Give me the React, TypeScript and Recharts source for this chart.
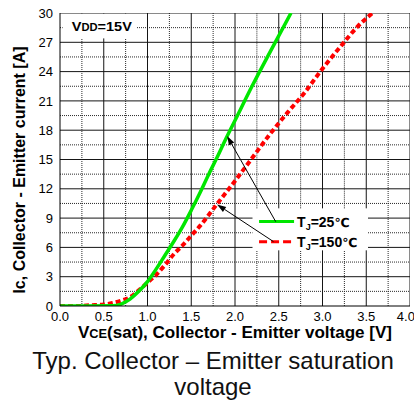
import React from 'react';
import { LineChart, Line, XAxis, YAxis, ReferenceLine } from 'recharts';

const FONT = '"Liberation Sans", Arial, Helvetica, sans-serif';

// Tj = 25°C curve
const greenX = [0, 0.3, 0.6, 0.7, 0.8, 0.9, 1.0, 1.1, 1.2, 1.3, 1.4, 1.5, 1.6, 1.7, 1.8, 1.9, 2.0, 2.2, 2.4, 2.64];
const greenY = [0, 0, 0.02, 0.2, 0.7, 1.5, 2.5, 3.8, 5.2, 6.6, 8.1, 9.8, 11.6, 13.5, 15.3, 17.2, 19.0, 22.6, 26.0, 30];

// Tj = 150°C curve
const redX = [0, 0.2, 0.3, 0.4, 0.5, 0.6, 0.7, 0.8, 0.9, 1.0, 1.1, 1.2, 1.3, 1.4, 1.5, 1.6, 1.8, 2.0, 2.2, 2.4, 2.6, 2.8, 3.0, 3.2, 3.4, 3.57];
const redY = [0, 0, 0.05, 0.1, 0.15, 0.3, 0.55, 0.9, 1.6, 2.4, 3.2, 4.2, 5.3, 6.2, 7.2, 8.2, 10.5, 12.8, 15.2, 17.6, 19.8, 21.9, 24.3, 26.5, 28.6, 30];

const xTicks = [0, 0.5, 1.0, 1.5, 2.0, 2.5, 3.0, 3.5, 4.0];
const yTicks = [0, 3, 6, 9, 12, 15, 18, 21, 24, 27, 30];
const xMajorGrid = [0.5, 1.0, 1.5, 2.0, 2.5, 3.0, 3.5, 4.0];
const xMinorGrid = [0.25, 0.75, 1.25, 1.75, 2.25, 2.75, 3.25, 3.75];
const yMajorGrid = [3, 6, 9, 12, 15, 18, 21, 24, 27, 30];
const yMinorGrid = [1.5, 4.5, 7.5, 10.5, 13.5, 16.5, 19.5, 22.5, 25.5, 28.5];
const X_MIN = 0;
const X_MAX = 4;
const Y_MIN = 0;
const Y_MAX = 30;

// blank (grid-free) boxes in data units
const legendBox = { x1: 2.2, x2: 3.52, y1: 5.7, y2: 10.0 };
const vddBox = { x1: 0.03, x2: 0.88, y1: 27.4, y2: 29.95 };
const blankBoxes = [vddBox, legendBox];
const vddAnchor = [{ x: 0.03, y: 27.4 }, { x: 0.88, y: 29.95 }];
const greenSample = [{ x: 2.275, y: 8.64 }, { x: 2.675, y: 8.64 }];
const redSample = [{ x: 2.275, y: 6.59 }, { x: 2.675, y: 6.59 }];
const greenArrow = [{ x: 2.465, y: 8.64 }, { x: 1.91, y: 17.4 }];
const redArrow = [{ x: 2.44, y: 6.59 }, { x: 1.795, y: 10.4 }];
const plotSpan = [{ x: X_MIN, y: Y_MIN }, { x: X_MAX, y: Y_MAX }];

const greenData = greenX.map((x, i) => ({ x, y: greenY[i] }));
const redData = redX.map((x, i) => ({ x, y: redY[i] }));

type Interval = [number, number];
const subtract = (list: Interval[], lo: number, hi: number): Interval[] =>
  list.flatMap(([a, c]) => {
    if (hi <= a || lo >= c) return [[a, c] as Interval];
    const out: Interval[] = [];
    if (lo > a) out.push([a, lo]);
    if (hi < c) out.push([hi, c]);
    return out;
  });

const verticalPieces = (v: number): Interval[] =>
  blankBoxes.reduce<Interval[]>((acc, b) => (v > b.x1 && v < b.x2 ? subtract(acc, b.y1, b.y2) : acc), [[Y_MIN, Y_MAX]]);
const horizontalPieces = (v: number): Interval[] =>
  blankBoxes.reduce<Interval[]>((acc, b) => (v > b.y1 && v < b.y2 ? subtract(acc, b.x1, b.x2) : acc), [[X_MIN, X_MAX]]);

type GridPiece = { id: string; data: { x: number; y: number }[]; color: string; dash?: string };
const buildGrid = (): GridPiece[] => {
  const out: GridPiece[] = [];
  const addV = (vals: number[], color: string, dash?: string) =>
    vals.forEach((v) =>
      verticalPieces(v).forEach(([a, c], i) =>
        out.push({ id: `v${v}-${i}-${dash ? 'm' : 'M'}`, data: [{ x: v, y: a }, { x: v, y: c }], color, dash })
      )
    );
  const addH = (vals: number[], color: string, dash?: string) =>
    vals.forEach((v) =>
      horizontalPieces(v).forEach(([a, c], i) =>
        out.push({ id: `h${v}-${i}-${dash ? 'm' : 'M'}`, data: [{ x: a, y: v }, { x: c, y: v }], color, dash })
      )
    );
  addV(xMinorGrid, '#2a2a2a', '1 1');
  addH(yMinorGrid, '#2a2a2a', '1 1');
  addV(xMajorGrid, '#151515');
  addH(yMajorGrid, '#151515');
  return out;
};
const gridPieces = buildGrid();

const VddShape = (p: any) => {
  const x = Math.min(p.x1, p.x2);
  const y = Math.min(p.y1, p.y2);
  const w = Math.abs(p.x2 - p.x1);
  const h = Math.abs(p.y2 - p.y1);
  return (
    <text
      x={x + w / 2 + 2}
      y={y + h / 2 + 5}
      textAnchor="middle"
      fontFamily={FONT}
      fontWeight="bold"
      fontSize={13}
      fill="#000"
      textLength={60}
      lengthAdjust="spacingAndGlyphs"
    >
      V<tspan fontSize={10}>DD</tspan>=15V
    </text>
  );
};

const TitleShape = (p: any) => {
  const cx = (p.x1 + p.x2) / 2;
  const cy = (p.y1 + p.y2) / 2;
  return (
    <g>
      <text
        x={p.x1 - 35.5}
        y={cy + 10.5}
        transform={`rotate(-90 ${p.x1 - 35.5} ${cy + 10.5})`}
        textAnchor="middle"
        fontFamily={FONT}
        fontWeight="bold"
        fontSize={16}
        fill="#000"
      >
        Ic, Collector - Emitter current [A]
      </text>
      <text x={cx} y={p.y1 + 31.5} textAnchor="middle" fontFamily={FONT} fontWeight="bold" fontSize={16} fill="#000" textLength={314} lengthAdjust="spacingAndGlyphs">
        V<tspan fontSize={12}>CE</tspan>(sat), Collector - Emitter voltage [V]
      </text>
      <text x={cx - 22} y={p.y1 + 62.5} textAnchor="middle" fontFamily={FONT} fontSize={24} fill="#111">
        Typ. Collector – Emitter saturation
      </text>
      <text x={cx - 22} y={p.y1 + 89} textAnchor="middle" fontFamily={FONT} fontSize={24} fill="#111">
        voltage
      </text>
    </g>
  );
};

const ArrowShape = (p: any) => {
  const { x1, y1, x2, y2 } = p;
  const dx = x2 - x1;
  const dy = y2 - y1;
  const len = Math.hypot(dx, dy) || 1;
  const ux = dx / len;
  const uy = dy / len;
  const hl = 9;
  const hw = 3;
  const bx = x2 - ux * hl;
  const by = y2 - uy * hl;
  return (
    <g>
      <line x1={x1} y1={y1} x2={bx} y2={by} stroke="#000" strokeWidth={1} />
      <polygon points={`${x2},${y2} ${bx - uy * hw},${by + ux * hw} ${bx + uy * hw},${by - ux * hw}`} fill="#000" />
    </g>
  );
};

const makeSample = (color: string, dash: string | undefined, temp: string) => (p: any) => {
  const { x1, y1, x2, y2 } = p;
  return (
    <g>
      <line x1={x1} y1={y1} x2={x2} y2={y2} stroke={color} strokeWidth={3} strokeDasharray={dash} />
      <text x={x2 + 3} y={y2 + 5} fontFamily={FONT} fontWeight="bold" fontSize={14} fill="#000">
        T<tspan fontSize={9} dy={3}>J</tspan>
        <tspan dy={-3}>={temp}</tspan>
        <tspan fontFamily='"DejaVu Sans", sans-serif' fontSize={12.5} letterSpacing={-1}>℃</tspan>
      </text>
    </g>
  );
};

export default function App() {
  return (
    <div style={{ position: 'absolute', left: 0, top: 0, width: 414, height: 405, background: '#fff' }}>
      <LineChart width={414} height={405} margin={{ top: 13, right: 4, bottom: 0, left: 0 }}>
        <XAxis
          type="number"
          dataKey="x"
          domain={[X_MIN, X_MAX]}
          ticks={xTicks}
          tickFormatter={(v: number) => v.toFixed(1)}
          height={99}
          axisLine={{ stroke: '#000', strokeWidth: 1 }}
          tickLine={false}
          tickSize={4}
          tickMargin={2}
          tick={{ fontFamily: FONT, fontSize: 13, fill: '#000' }}
          allowDataOverflow
        />
        <YAxis
          type="number"
          dataKey="y"
          domain={[Y_MIN, Y_MAX]}
          ticks={yTicks}
          width={60}
          axisLine={{ stroke: '#000', strokeWidth: 1 }}
          tickLine={false}
          tickSize={4}
          tickMargin={3}
          tick={{ fontFamily: FONT, fontSize: 13, fill: '#000' }}
          allowDataOverflow
        />

        {gridPieces.map((g) => (
          <Line
            key={g.id}
            data={g.data}
            dataKey="y"
            type="linear"
            stroke={g.color}
            strokeWidth={1}
            strokeDasharray={g.dash}
            dot={false}
            activeDot={false}
            isAnimationActive={false}
          />
        ))}

        <Line data={redData} dataKey="y" type="monotone" stroke="#ff0000" strokeWidth={4} strokeDasharray="5 3" dot={false} isAnimationActive={false} />
        <Line data={greenData} dataKey="y" type="monotone" stroke="#00e600" strokeWidth={3.5} dot={false} isAnimationActive={false} />

        <ReferenceLine segment={vddAnchor} shape={VddShape} />
        <ReferenceLine segment={greenSample} shape={makeSample('#00e600', undefined, '25')} />
        <ReferenceLine segment={redSample} shape={makeSample('#ff0000', '8 4', '150')} />
        <ReferenceLine segment={greenArrow} shape={ArrowShape} />
        <ReferenceLine segment={redArrow} shape={ArrowShape} />
        <ReferenceLine segment={plotSpan} shape={TitleShape} />
      </LineChart>
    </div>
  );
}
